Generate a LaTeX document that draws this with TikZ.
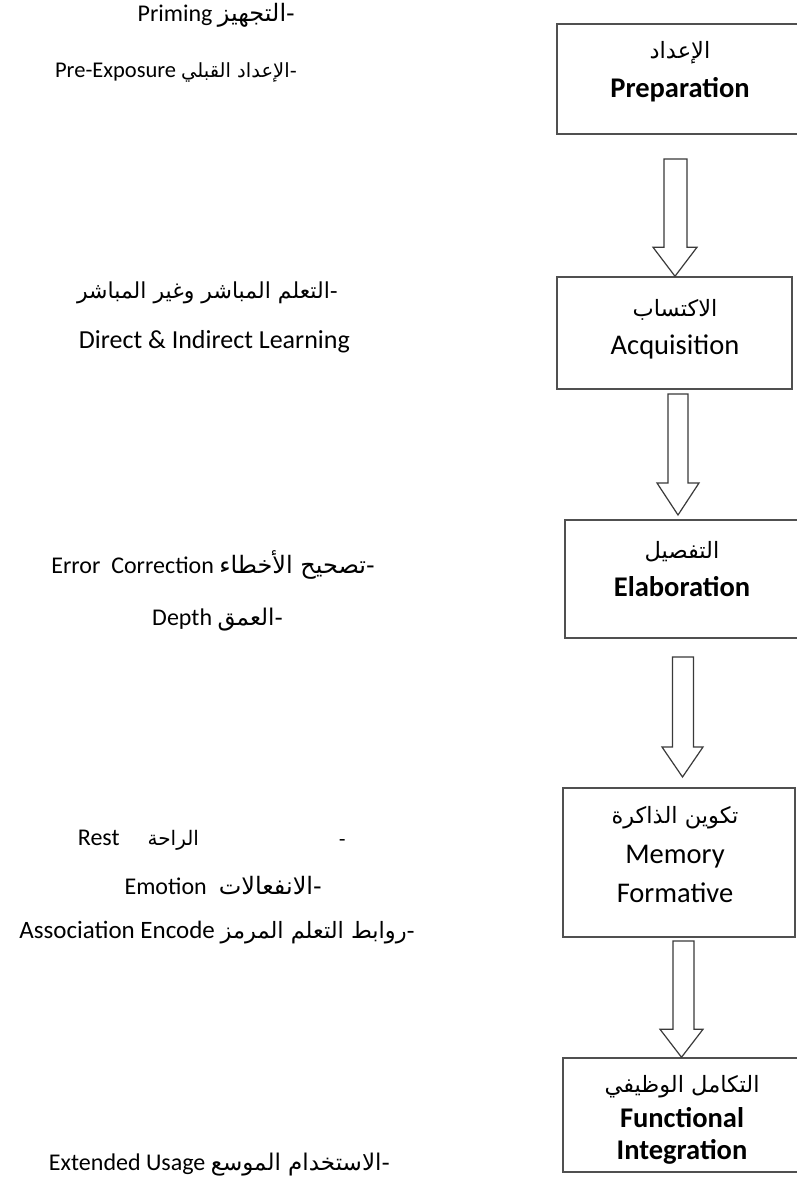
\documentclass[tikz,border=0pt]{standalone}
\usepackage{fontspec}
\setmainfont{Carlito}
\newfontfamily\arabicfont[Script=Arabic]{DejaVu Sans}
\TeXXeTstate=1
\usetikzlibrary{calc}
\definecolor{boxline}{HTML}{505050}
\definecolor{arrline}{HTML}{3A3A3A}
\newcommand\fs[1]{\fontsize{#1}{#1}\selectfont}
\newcommand\ar[2]{{\arabicfont\fs{#1}#2}}
\newcommand\hollowarrow[5]{% start, tip, shaft half width, head half width, head length
  \draw[hollowarrowline] let \p1=(#1), \p2=(#2) in
    (\x1-#3pt,\y1) -- (\x1-#3pt,\y2+#5pt) -- (\x2-#4pt,\y2+#5pt) -- (\x2,\y2)
    -- (\x2+#4pt,\y2+#5pt) -- (\x1+#3pt,\y2+#5pt) -- (\x1+#3pt,\y1) -- cycle;}
\begin{document}
\begin{tikzpicture}[x=1pt,y=-1pt,
  stagebox/.style={draw=boxline,line width=1.5pt,fill=white,inner sep=0pt,rectangle},
  hollowarrowline/.style={draw=arrline,line width=1.2pt,fill=white,line join=miter},
  boxtxt/.style={inner sep=0pt,font=\mdseries\fs{28.5}},
  boldtxt/.style={inner sep=0pt,font=\bfseries\fs{28.5}},
  boxar/.style={inner sep=0pt,font=\arabicfont\fs{22.5}},
  lefttxt/.style={inner sep=0pt,anchor=east,font=\mdseries\fs{24}}]
\useasboundingbox (0,0) rectangle (797,1194);
\clip (0,0) rectangle (797,1194);
\fill[white] (0,0) rectangle (797,1194);

% stage boxes (boxes 1, 3 and 5 run past the right edge)
\node[stagebox,minimum width=255pt,minimum height=110pt] (b1) at (684.5,79) {};
\node[stagebox,minimum width=235pt,minimum height=112pt] (b2) at (674.5,333) {};
\node[stagebox,minimum width=247pt,minimum height=118pt] (b3) at (688.5,579) {};
\node[stagebox,minimum width=232pt,minimum height=149pt] (b4) at (679,862.5) {};
\node[stagebox,minimum width=249pt,minimum height=114pt] (b5) at (687.5,1115) {};

% box texts
\node[boxar] (t1a) at (680,53) {\beginR الإعداد\endR};
\node[boldtxt] (t1b) at (680,90) {Preparation};
\node[boxar] (t2a) at (675,310) {\beginR الاكتساب\endR};
\node[boxtxt] (t2b) at (675,347) {Acquisition};
\node[boxar] (t3a) at (682,552) {\beginR التفصيل\endR};
\node[boldtxt] (t3b) at (682,587) {Elaboration};
\node[boxar] (t4a) at (675,818) {\beginR تكوين الذاكرة\endR};
\node[boxtxt] (t4b) at (675,857) {Memory};
\node[boxtxt] (t4c) at (675,893) {Formative};
\node[boxar] (t5a) at (682,1087) {\beginR التكامل الوظيفي\endR};
\node[boldtxt] (t5b) at (682,1118) {Functional};
\node[boldtxt] (t5c) at (682,1152) {Integration};

% arrow anchors
\coordinate (a1s) at (675.5,159);
\coordinate (a1e) at ($(b2.north)+(0.5,0)$);
\coordinate (a2s) at (678,394);
\coordinate (a2e) at (678,515);
\coordinate (a3s) at (683,657);
\coordinate (a3e) at (682.5,777);
\coordinate (a4s) at (683.5,941);
\coordinate (a4e) at ($(b5.north)+(-6,0)$);

\hollowarrow{a1s}{a1e}{11.5}{22}{29}
\hollowarrow{a2s}{a2e}{10}{21}{32}
\hollowarrow{a3s}{a3e}{10.5}{20.5}{30}
\hollowarrow{a4s}{a4e}{10.5}{21.5}{28}

% left-hand notes
\node[lefttxt] (l1) at (295,15) {\beginR\ar{24}{-التجهيز} \beginL Priming\endL\endR};
\node[lefttxt,font=\mdseries\fs{22.5}] (l2) at (297,72) {\beginR\ar{19.5}{-الإعداد القبلي} \beginL Pre-Exposure\endL\endR};
\node[lefttxt] (l3) at (338,293) {\beginR\ar{22}{-التعلم المباشر وغير المباشر}\endR};
\node[lefttxt,font=\mdseries\fs{26}] (l4) at (350,342) {Direct \& Indirect Learning};
\node[lefttxt] (l5) at (375,565) {\beginR\ar{24}{-تصحيح الأخطاء} \beginL Error\ \ Correction\endL\endR};
\node[lefttxt] (l6) at (283,620) {\beginR\ar{23}{-العمق} \beginL Depth\endL\endR};
\node[lefttxt] (l7) at (346,840) {\beginR\ar{19}{-}\hspace{140pt}\ar{20}{الراحة}\hspace{28pt}\beginL Rest\endL\endR};
\node[lefttxt] (l8) at (322,885) {\beginR\ar{24}{-الانفعالات}\hspace{12pt}\beginL Emotion\endL\endR};
\node[lefttxt,font=\mdseries\fs{25}] (l9) at (415,933) {\beginR\ar{22.5}{-روابط التعلم المرمز} \beginL Association Encode\endL\endR};
\node[lefttxt] (l10) at (390,1165) {\beginR\ar{23}{-الاستخدام الموسع} \beginL Extended Usage\endL\endR};
\end{tikzpicture}
\end{document}
